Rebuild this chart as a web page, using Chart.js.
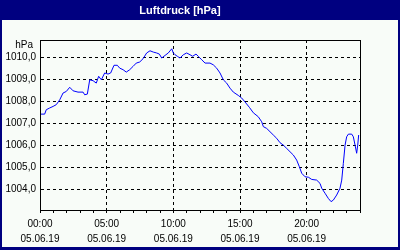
<!DOCTYPE html>
<html>
<head>
<meta charset="utf-8">
<script src="https://cdn.jsdelivr.net/npm/chart.js@4/dist/chart.umd.min.js"></script>
<style>
  html, body { margin: 0; padding: 0; background: #000080; }
  #wrap { width: 400px; height: 250px; }
</style>
</head>
<body>
<div id="wrap"><canvas id="luftdruck" width="400" height="250"></canvas></div>
<script>
// Messwerte vom 05.06.19 (Stunden seit Mitternacht / hPa)
const hours = [
  0, 0.35, 0.47, 0.73, 0.98, 1.22, 1.48, 1.73, 1.97, 2.23, 2.48, 2.85, 3.23, 3.35, 3.55,
  3.73, 3.98, 4.22, 4.4, 4.6, 4.85, 5.1, 5.3, 5.55, 5.8, 5.98, 6.23, 6.47, 6.73, 6.98,
  7.22, 7.48, 7.73, 8.0, 8.25, 8.5, 8.75, 8.95, 9.13, 9.38, 9.62, 9.88, 10.0, 10.13,
  10.3, 10.5, 10.75, 11.0, 11.25, 11.45, 11.7, 11.87, 12.13, 12.38, 12.75, 13.0, 13.25,
  13.5, 13.75, 14.0, 14.25, 14.5, 14.87, 15.13, 15.38, 15.7, 16.0, 16.37, 16.63, 16.75,
  17.0, 17.25, 17.5, 17.75, 18.0, 18.25, 18.5, 18.75, 19.0, 19.25, 19.45, 19.63, 19.88,
  20.13, 20.38, 20.75, 21.0, 21.13, 21.38, 21.62, 21.83, 22.0, 22.25, 22.5, 22.63, 22.75,
  22.88, 23.0, 23.13, 23.38, 23.5, 23.63, 23.75, 23.83, 23.9
];
const pressure = [
  1007.42, 1007.42, 1007.62, 1007.70, 1007.77, 1007.85, 1008.07, 1008.38, 1008.45, 1008.64,
  1008.48, 1008.42, 1008.42, 1008.30, 1008.33, 1008.98, 1008.94, 1008.83, 1009.14, 1008.98,
  1009.29, 1009.24, 1009.29, 1009.64, 1009.64, 1009.51, 1009.44, 1009.33, 1009.44, 1009.59,
  1009.74, 1009.79, 1009.94, 1010.20, 1010.30, 1010.24, 1010.20, 1010.15, 1009.97, 1010.09,
  1010.20, 1010.39, 1010.20, 1010.12, 1010.05, 1009.97, 1010.12, 1010.20, 1010.12, 1010.05,
  1010.15, 1010.05, 1009.89, 1009.74, 1009.74, 1009.66, 1009.51, 1009.29, 1008.98, 1008.83,
  1008.60, 1008.42, 1008.27, 1008.15, 1007.97, 1007.73, 1007.48, 1007.30, 1007.07, 1006.85,
  1006.77, 1006.62, 1006.47, 1006.32, 1006.12, 1006.01, 1005.86, 1005.71, 1005.56, 1005.33,
  1005.03, 1004.73, 1004.57, 1004.55, 1004.45, 1004.42, 1004.27, 1004.05, 1003.82, 1003.59,
  1003.44, 1003.51, 1003.74, 1004.05, 1004.42, 1005.18, 1006.01, 1006.39, 1006.51, 1006.51,
  1006.39, 1006.01, 1005.64, 1006.01, 1006.47
];

// Achsen
const yTicks = [1004, 1005, 1006, 1007, 1008, 1009, 1010];
const yMin = 1003.06;
const yMax = 1010.79;
const xLabelHours = [0, 5, 10, 15, 20];
const dateLabel = '05.06.19';
const unitLabel = 'hPa';

const tickFont = { family: 'Liberation Sans', size: 10, lineHeight: 1.5 };

// Rahmen + Hintergrund zeichnen
const frame = {
  id: 'frame',
  beforeDraw(chart) {
    const ctx = chart.ctx;
    ctx.save();
    ctx.fillStyle = '#000080';
    ctx.fillRect(0, 0, chart.width, chart.height);
    ctx.fillStyle = '#f8fcf8';
    ctx.fillRect(2, 20, 396, 227);
    ctx.restore();
  },
  afterDraw(chart) {
    const {ctx, chartArea: a} = chart;
    ctx.save();
    ctx.strokeStyle = '#000';
    ctx.lineWidth = 1;
    ctx.strokeRect(Math.round(a.left) + 0.5, Math.round(a.top) + 0.5,
      Math.round(a.right - a.left), Math.round(a.bottom - a.top));
    ctx.fillStyle = '#000';
    ctx.font = '10px "Liberation Sans"';
    ctx.textAlign = 'right';
    ctx.textBaseline = 'middle';
    ctx.fillText(unitLabel, a.left - 7, a.top + 5);
    ctx.restore();
  }
};

new Chart(document.getElementById('luftdruck'), {
  type: 'line',
  data: {
    datasets: [{
      label: 'Luftdruck',
      data: hours.map((h, i) => ({ x: h, y: pressure[i] })),
      borderColor: '#0000ff',
      borderWidth: 1,
      pointRadius: 0,
      tension: 0
    }]
  },
  options: {
    responsive: false,
    animation: false,
    layout: { padding: { left: 0, right: 40, top: 0, bottom: 0 } },
    plugins: {
      legend: { display: false },
      tooltip: { enabled: false },
      title: {
        display: true,
        text: 'Luftdruck [hPa]',
        color: '#ffffff',
        font: { family: 'Liberation Sans', size: 11, weight: 'bold', lineHeight: 1.2 },
        padding: { top: 4, bottom: 22.8 }
      }
    },
    scales: {
      x: {
        type: 'linear',
        min: 0,
        max: 24,
        afterFit: s => { s.height = 40; },
        afterBuildTicks: s => {
          s.ticks = [];
          for (let h = 0; h <= 24; h++) s.ticks.push({ value: h });
        },
        ticks: {
          autoSkip: false,
          maxRotation: 0,
          padding: 4,
          color: '#000',
          font: tickFont,
          callback: v => xLabelHours.includes(v)
            ? [String(v).padStart(2, '0') + ':00', dateLabel] : ''
        },
        grid: {
          color: c => (c.tick && c.tick.value % 5 === 0 && c.tick.value > 0 && c.tick.value < 24) ? '#000' : 'transparent',
          tickColor: '#000',
          tickLength: 3,
          tickBorderDash: []
        },
        border: { color: '#000', dash: [3, 3] }
      },
      y: {
        min: yMin,
        max: yMax,
        afterFit: s => { s.width = 40; },
        afterBuildTicks: s => { s.ticks = yTicks.map(v => ({ value: v })); },
        ticks: {
          padding: 4,
          color: '#000',
          font: { family: 'Liberation Sans', size: 10 },
          callback: v => v.toFixed(1).replace('.', ',')
        },
        grid: { color: '#000', drawTicks: false },
        border: { color: '#000', dash: [3, 3] }
      }
    }
  },
  plugins: [frame]
});
</script>
</body>
</html>
